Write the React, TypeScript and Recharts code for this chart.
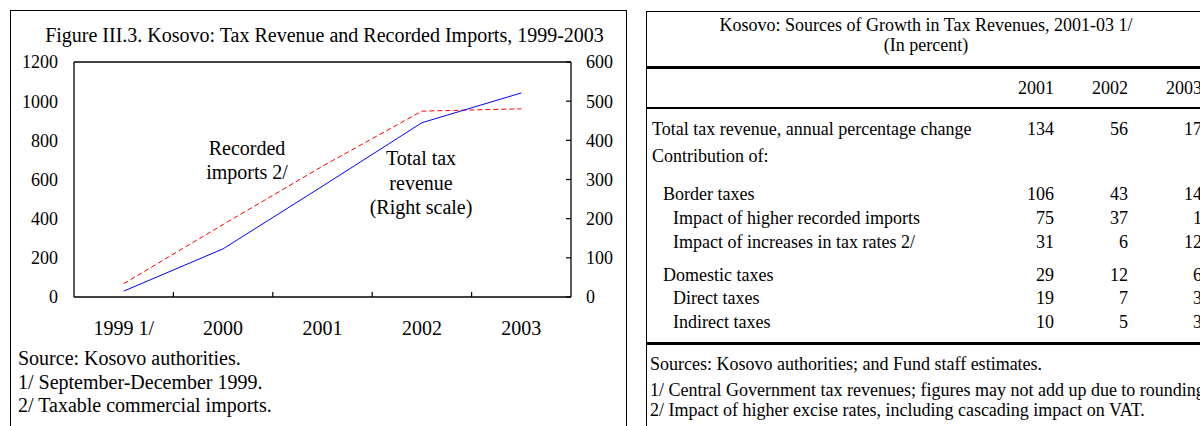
import React from 'react';
import { LineChart, Line, XAxis, YAxis, ReferenceLine } from 'recharts';

// chart data
const years = ['1999 1/', '2000', '2001', '2002', '2003'];
const recordedImports = [68, 370, 668, 949, 961]; // left scale
const taxRevenue = [15, 123, 283, 445, 521]; // right scale
const leftTicks = [0, 200, 400, 600, 800, 1000, 1200];
const rightTicks = [0, 100, 200, 300, 400, 500, 600];

// table data
const tableYears = ['2001', '2002', '2003'];
const tableLabels = [
  'Total tax revenue, annual percentage change',
  'Contribution of:',
  'Border taxes',
  'Impact of higher recorded imports',
  'Impact of increases in tax rates 2/',
  'Domestic taxes',
  'Direct taxes',
  'Indirect taxes',
];
const values2001 = ['134', '', '106', '75', '31', '29', '19', '10'];
const values2002 = ['56', '', '43', '37', '6', '12', '7', '5'];
const values2003 = ['17', '', '14', '1', '12', '6', '3', '3'];

// layout of the table rows (vertical centres and indents)
const rowCentres = [129, 156, 194, 218, 241.5, 275, 298, 321.5];
const rowIndents = [652, 652, 663, 673, 673, 663, 673, 673];
const colRights = [1054, 1128, 1202];

const SERIF = "'Times New Roman', 'Liberation Serif', serif";
const X_TICK_MARGIN = 31;
const TEXT = 20;
const TABLE = 18;

const data = years.map((year, i) => ({
  x: i + 0.5,
  year,
  imports: recordedImports[i],
  tax: taxRevenue[i],
}));

// integer ticks are the category boundaries (small marks pointing up),
// half ticks carry the year labels
const xTickValues = [0.5, 1, 1.5, 2, 2.5, 3, 3.5, 4, 4.5];

const YearTick = (props: any) => {
  const { x, y, payload } = props;
  const v = payload.value;
  if (Number.isInteger(v)) {
    const axisY = y - X_TICK_MARGIN;
    return <line x1={x} x2={x} y1={axisY - 5} y2={axisY} stroke="#000" strokeWidth={1.2} />;
  }
  return (
    <text x={x} y={y} textAnchor="middle" dominantBaseline="central" fontSize={TEXT} fontFamily={SERIF} fill="#000">
      {years[Math.floor(v)]}
    </text>
  );
};

const txt = (left: number, centre: number, text: string, size: number) => (
  <div
    style={{
      position: 'absolute',
      left,
      top: centre - 12,
      height: 24,
      lineHeight: '24px',
      whiteSpace: 'nowrap',
      fontSize: size,
    }}
  >
    {text}
  </div>
);

const centred = (cx: number, centre: number, text: string, size: number) => (
  <div
    style={{
      position: 'absolute',
      left: cx - 450,
      width: 900,
      top: centre - 12,
      height: 24,
      lineHeight: '24px',
      textAlign: 'center',
      fontSize: size,
      whiteSpace: 'nowrap',
    }}
  >
    {text}
  </div>
);

const numCell = (right: number, centre: number, text: string) => (
  <div
    style={{
      position: 'absolute',
      left: right - 80,
      width: 80,
      top: centre - 12,
      lineHeight: '24px',
      textAlign: 'right',
      fontSize: TABLE,
    }}
  >
    {text}
  </div>
);

const rule = (top: number) => (
  <div style={{ position: 'absolute', left: 647, top: top - 1, width: 560, height: 2.5, background: '#000' }} />
);

export default function App() {
  return (
    <div
      style={{
        position: 'absolute',
        left: 0,
        top: 0,
        width: 1200,
        height: 426,
        overflow: 'hidden',
        background: '#fff',
        fontFamily: SERIF,
        color: '#000',
      }}
    >
      {/* left panel frame */}
      <div
        style={{
          position: 'absolute',
          left: 10,
          top: 10,
          width: 617,
          height: 440,
          border: '1.5px solid #000',
          boxSizing: 'border-box',
        }}
      />
      {centred(324.5, 35, 'Figure III.3. Kosovo: Tax Revenue and Recorded Imports, 1999-2003', TEXT)}

      <div style={{ position: 'absolute', left: 0, top: 0 }}>
        <LineChart width={627} height={340} data={data} margin={{ top: 62, right: 6, left: 0, bottom: 3 }}>
          <XAxis
            dataKey="x"
            type="number"
            domain={[0, 5]}
            ticks={xTickValues}
            interval={0}
            height={40}
            tickSize={0}
            tickMargin={X_TICK_MARGIN}
            tickLine={false}
            axisLine={{ stroke: '#000', strokeWidth: 1.3 }}
            tick={<YearTick />}
          />
          <YAxis
            yAxisId="imports"
            domain={[0, 1200]}
            ticks={leftTicks}
            interval={0}
            width={74}
            tickLine={false}
            tickSize={6}
            tickMargin={10}
            axisLine={{ stroke: '#000', strokeWidth: 1.3 }}
            tick={{ fill: '#000', fontSize: 18, fontFamily: SERIF }}
          />
          <YAxis
            yAxisId="tax"
            orientation="right"
            domain={[0, 600]}
            ticks={rightTicks}
            interval={0}
            width={50}
            tickSize={-5}
            tickMargin={20}
            tickLine={{ stroke: '#000', strokeWidth: 1.2 }}
            axisLine={{ stroke: '#000', strokeWidth: 1.3 }}
            tick={{ fill: '#000', fontSize: 18, fontFamily: SERIF }}
          />
          <ReferenceLine yAxisId="imports" y={1200} stroke="#000" strokeWidth={1.3} />
          <Line
            yAxisId="imports"
            dataKey="imports"
            type="linear"
            stroke="#ff0000"
            strokeWidth={1}
            strokeDasharray="5 3"
            dot={false}
            isAnimationActive={false}
          />
          <Line
            yAxisId="tax"
            dataKey="tax"
            type="linear"
            stroke="#0000ff"
            strokeWidth={1}
            dot={false}
            isAnimationActive={false}
          />
        </LineChart>
      </div>

      {/* in-plot labels */}
      {centred(247, 148, 'Recorded', TEXT)}
      {centred(247, 172, 'imports 2/', TEXT)}
      {centred(421, 158, 'Total tax', TEXT)}
      {centred(421, 183, 'revenue', TEXT)}
      {centred(421, 207, '(Right scale)', TEXT)}

      {/* chart notes */}
      {txt(18, 358, 'Source: Kosovo authorities.', TEXT)}
      {txt(18, 381.5, '1/ September-December 1999.', TEXT)}
      {txt(18, 405, '2/ Taxable commercial imports.', TEXT)}

      {/* right panel: table */}
      <div
        style={{
          position: 'absolute',
          left: 646,
          top: 11,
          width: 570,
          height: 440,
          border: '1.5px solid #000',
          boxSizing: 'border-box',
        }}
      />
      {centred(926, 25, 'Kosovo: Sources of Growth in Tax Revenues, 2001-03 1/', TABLE)}
      {centred(926, 45, '(In percent)', TABLE)}
      {rule(67)}
      {tableYears.map((y, i) => (
        <React.Fragment key={y}>{numCell(colRights[i], 88, y)}</React.Fragment>
      ))}
      {rule(107.5)}
      {tableLabels.map((label, r) => (
        <React.Fragment key={label}>
          {txt(rowIndents[r], rowCentres[r], label, TABLE)}
          {[values2001, values2002, values2003].map((col, c) => (
            <React.Fragment key={c}>{numCell(colRights[c], rowCentres[r], col[r])}</React.Fragment>
          ))}
        </React.Fragment>
      ))}
      {rule(343)}
      {txt(650, 363.5, 'Sources: Kosovo authorities; and Fund staff estimates.', TABLE)}
      {txt(650, 389.5, '1/ Central Government tax revenues; figures may not add up due to rounding.', TABLE)}
      {txt(650, 409.5, '2/ Impact of higher excise rates, including cascading impact on VAT.', TABLE)}
    </div>
  );
}
